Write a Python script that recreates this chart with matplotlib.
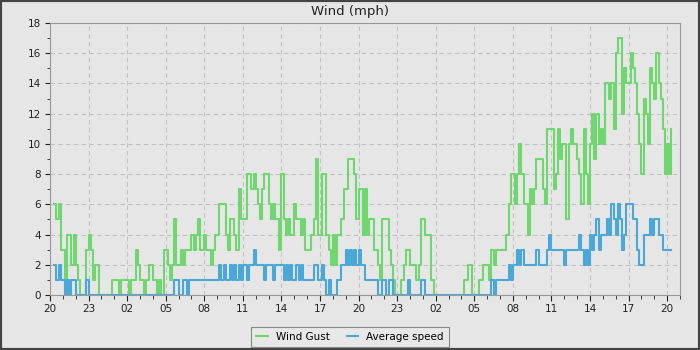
import pandas as pd
import matplotlib
matplotlib.use("Agg")
import matplotlib.pyplot as plt
import matplotlib.dates as mdates
from matplotlib.patches import Rectangle

# 10-minute readings (mph), first reading at 20:20
start = "2024-05-10 20:20"
wind_gust = [
    6, 5, 6, 3,                 # 20h
    3, 0, 4, 4, 2, 4,           # 21h
    2, 1, 0, 0, 0, 3,           # 22h
    4, 3, 1, 2, 2, 0,           # 23h
    0, 0, 0, 0, 0, 1,           # 00h
    1, 1, 0, 1, 1, 1,           # 01h
    1, 0, 1, 1, 3, 2,           # 02h
    1, 1, 0, 1, 2, 2,           # 03h
    1, 1, 0, 1, 0, 3,           # 04h
    3, 2, 1, 2, 5, 2,           # 05h
    2, 3, 2, 3, 3, 3,           # 06h
    4, 3, 4, 5, 3, 3,           # 07h
    4, 3, 3, 2, 3, 4,           # 08h
    4, 6, 6, 6, 4, 3,           # 09h
    5, 5, 4, 3, 7, 5,           # 10h
    5, 5, 8, 8, 7, 8,           # 11h
    7, 6, 5, 7, 8, 8,           # 12h
    6, 5, 6, 5, 5, 3,           # 13h
    8, 5, 4, 5, 4, 4,           # 14h
    6, 5, 5, 4, 5, 3,           # 15h
    3, 3, 4, 5, 9, 4,           # 16h
    4, 8, 8, 4, 3, 2,           # 17h
    4, 2, 4, 4, 5, 7,           # 18h
    7, 9, 9, 9, 8, 5,           # 19h
    7, 7, 4, 7, 4, 5,           # 20h
    5, 3, 3, 2, 1, 5,           # 21h
    5, 5, 3, 2, 1, 0,           # 22h
    0, 0, 1, 2, 3, 3,           # 23h
    2, 2, 2, 1, 2, 5,           # 00h
    5, 4, 4, 4, 1, 0,           # 01h
    0, 0, 0, 0, 0, 0,           # 02h
    0, 0, 0, 0, 0, 0,           # 03h
    0, 1, 1, 2, 2, 0,           # 04h
    0, 0, 1, 1, 2, 2,           # 05h
    2, 1, 3, 2, 3, 3,           # 06h
    3, 3, 3, 4, 6, 8,           # 07h
    8, 6, 8, 10, 8, 6,          # 08h
    6, 4, 7, 6, 7, 9,           # 09h
    9, 9, 7, 6, 11, 11,         # 10h
    11, 7, 8, 11, 9, 10,        # 11h
    10, 5, 10, 11, 10, 10,      # 12h
    9, 8, 6, 11, 8, 6,          # 13h
    10, 12, 9, 12, 10, 11,      # 14h
    10, 14, 14, 13, 14, 11,     # 15h
    16, 17, 17, 12, 15, 14,     # 16h
    14, 16, 15, 14, 12, 10,     # 17h
    8, 13, 12, 10, 15, 14,      # 18h
    13, 16, 14, 13, 11, 8,      # 19h
    10, 8, 11,                  # 20h
]
avg_speed = [
    2, 1, 2, 1,
    1, 0, 1, 0, 1, 1,
    0, 0, 0, 0, 0, 1,
    0, 0, 0, 0, 0, 0,
    0, 0, 0, 0, 0, 0,
    0, 0, 0, 0, 0, 0,
    0, 0, 0, 0, 0, 0,
    0, 0, 0, 0, 0, 0,
    0, 0, 0, 0, 0, 0,
    0, 0, 0, 0, 1, 1,
    0, 0, 1, 1, 0, 1,
    1, 1, 1, 1, 1, 1,
    1, 1, 1, 1, 1, 1,
    1, 2, 1, 2, 1, 1,
    2, 1, 2, 1, 2, 1,
    2, 2, 1, 2, 2, 3,
    2, 2, 2, 2, 1, 2,
    2, 2, 1, 2, 2, 2,
    2, 1, 2, 1, 2, 1,
    1, 2, 1, 2, 1, 1,
    1, 1, 1, 2, 2, 1,
    1, 2, 1, 0, 1, 0,
    0, 0, 1, 1, 2, 2,
    3, 2, 3, 2, 3, 2,
    3, 2, 2, 1, 1, 1,
    1, 1, 1, 0, 0, 1,
    1, 0, 1, 1, 0, 0,
    0, 0, 0, 0, 0, 1,
    0, 0, 0, 0, 0, 1,
    1, 0, 0, 0, 0, 0,
    0, 0, 0, 0, 0, 0,
    0, 0, 0, 0, 0, 0,
    0, 0, 0, 0, 0, 0,
    0, 0, 0, 0, 0, 0,
    0, 0, 1, 0, 1, 1,
    1, 1, 1, 1, 2, 1,
    2, 2, 3, 2, 3, 2,
    2, 2, 2, 2, 2, 3,
    2, 2, 2, 2, 3, 4,
    3, 3, 3, 3, 3, 3,
    2, 3, 3, 3, 3, 3,
    3, 4, 3, 2, 3, 2,
    4, 3, 4, 5, 3, 4,
    4, 4, 5, 4, 6, 5,
    4, 6, 5, 3, 4, 6,
    6, 6, 5, 5, 3, 2,
    2, 4, 4, 4, 5, 4,
    5, 5, 4, 4, 3, 3,
    3, 3, 3,
]
times = pd.date_range(start, periods=len(wind_gust), freq="10min")

bg = "#e6e6e6"
green = "#70d670"
blue = "#4aa8d8"

fig = plt.figure(figsize=(7, 3.5), dpi=100, facecolor=bg)
ax = fig.add_axes([50 / 700, 1 - 295 / 350, 630 / 700, 272 / 350])
ax.set_facecolor(bg)

ax.plot(times, wind_gust, drawstyle="steps-post", color=green, lw=1.5, label="Wind Gust")
ax.plot(times, avg_speed, drawstyle="steps-post", color=blue, lw=1.5, label="Average speed")

ax.set_xlim(pd.Timestamp("2024-05-10 20:00"), pd.Timestamp("2024-05-12 21:00"))
ax.set_ylim(0, 18)
ax.set_yticks(range(0, 19, 2))
ax.set_yticks(range(1, 18, 2), minor=True)
ax.xaxis.set_major_locator(mdates.HourLocator(byhour=[2, 5, 8, 11, 14, 17, 20, 23]))
ax.xaxis.set_minor_locator(mdates.HourLocator())
ax.xaxis.set_major_formatter(mdates.DateFormatter("%H"))

ax.grid(True, which="major", linestyle=(0, (4, 3)), color="#c2c2c2", linewidth=0.8)
for s in ax.spines.values():
    s.set_color("#999999")
ax.tick_params(axis="both", which="major", labelsize=7.5, colors="#222222", direction="out")
ax.tick_params(axis="x", which="major", length=4.5, pad=2)
ax.tick_params(axis="x", which="minor", length=2.8, color="#222222")
ax.tick_params(axis="y", which="major", length=3.6, pad=3)
ax.tick_params(axis="y", which="minor", length=2.2, color="#222222")

fig.text(0.5, 1 - 11 / 350, "Wind (mph)", ha="center", va="center", fontsize=9.5, color="#222222")

leg = fig.legend(loc="center", bbox_to_anchor=(0.5, 1 - 337 / 350), ncol=2, fontsize=7.5,
                 frameon=True, fancybox=False, facecolor="#e8e8e8", edgecolor="#888888",
                 framealpha=1, handlelength=1.1, handletextpad=0.8, columnspacing=1.6,
                 borderpad=0.5)
leg.get_frame().set_linewidth(0.8)

fig.patches.append(Rectangle((0, 0), 1, 1, transform=fig.transFigure, fill=False,
                             edgecolor="#444444", linewidth=3))

fig.savefig("out.png", dpi=100, facecolor=bg)
